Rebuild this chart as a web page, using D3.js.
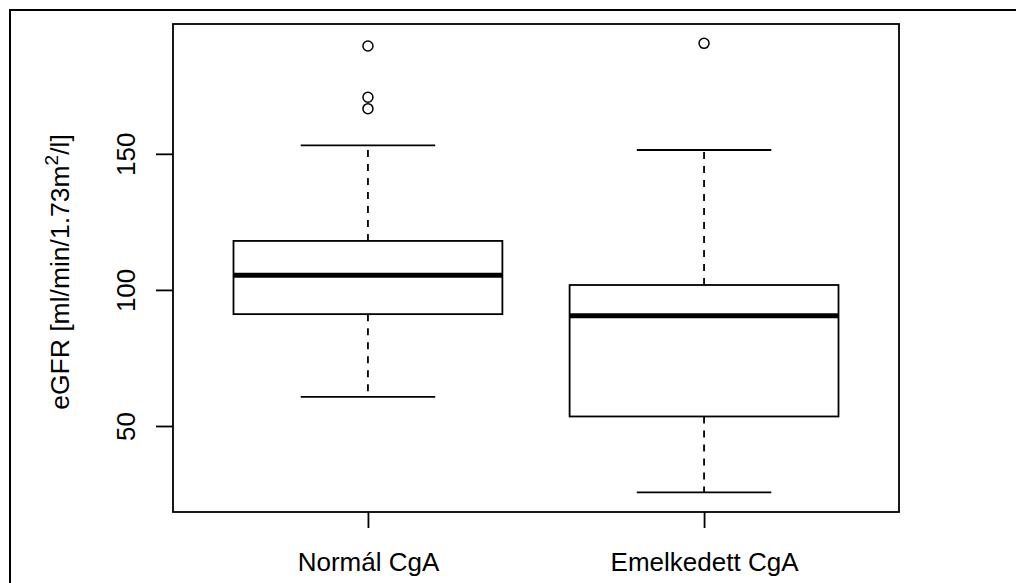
<!DOCTYPE html>
<html>
<head>
<meta charset="utf-8">
<script src="https://cdn.jsdelivr.net/npm/d3@7"></script>
<style>
  body { margin: 0; background: #fff; }
  svg text { font-family: "Liberation Sans", Arial, sans-serif; fill: #000; }
</style>
</head>
<body>
<div id="chart"></div>
<script>
// groups and five-number summaries
const categories = ["Normál CgA", "Emelkedett CgA"];
const lowerWhisker = [60.7, 25.6];
const q1 = [91.1, 53.5];
const medians = [105.4, 90.5];
const q3 = [118.0, 101.8];
const upperWhisker = [153.1, 151.4];
const outliers = [[166.6, 170.8, 189.6], [190.6]];
const yTicks = [50, 100, 150];

const width = 1016, height = 583;
const margin = {top: 24, right: 117, bottom: 71, left: 173};

const svg = d3.select("#chart").append("svg")
    .attr("width", width)
    .attr("height", height);

// outer frame (runs off the right and bottom edge)
svg.append("rect")
    .attr("x", 10).attr("y", 10)
    .attr("width", width).attr("height", height)
    .attr("fill", "none").attr("stroke", "#000").attr("stroke-width", 2);

const x = d3.scalePoint()
    .domain(categories)
    .range([margin.left, width - margin.right])
    .padding(0.58);

const y = d3.scaleLinear()
    .domain([18.4, 197.7])
    .range([height - margin.bottom, margin.top]);

const boxW = x.step() * 0.8;
const capW = x.step() * 0.4;

const data = categories.map((c, i) => ({
    cat: c, lo: lowerWhisker[i], q1: q1[i], med: medians[i],
    q3: q3[i], hi: upperWhisker[i], out: outliers[i]
}));

const g = svg.selectAll(".box")
    .data(data)
    .enter().append("g")
    .attr("class", "box");

// dashed whiskers
g.append("line")
    .attr("x1", d => x(d.cat)).attr("x2", d => x(d.cat))
    .attr("y1", d => y(d.q3)).attr("y2", d => y(d.hi))
    .attr("stroke", "#000").attr("stroke-width", 1.8)
    .attr("stroke-dasharray", "7,7");
g.append("line")
    .attr("x1", d => x(d.cat)).attr("x2", d => x(d.cat))
    .attr("y1", d => y(d.q1)).attr("y2", d => y(d.lo))
    .attr("stroke", "#000").attr("stroke-width", 1.8)
    .attr("stroke-dasharray", "7,7");

// whisker caps
g.append("line")
    .attr("x1", d => x(d.cat) - capW / 2).attr("x2", d => x(d.cat) + capW / 2)
    .attr("y1", d => y(d.hi)).attr("y2", d => y(d.hi))
    .attr("stroke", "#000").attr("stroke-width", 1.8);
g.append("line")
    .attr("x1", d => x(d.cat) - capW / 2).attr("x2", d => x(d.cat) + capW / 2)
    .attr("y1", d => y(d.lo)).attr("y2", d => y(d.lo))
    .attr("stroke", "#000").attr("stroke-width", 1.8);

// box
g.append("rect")
    .attr("x", d => x(d.cat) - boxW / 2)
    .attr("y", d => y(d.q3))
    .attr("width", boxW)
    .attr("height", d => y(d.q1) - y(d.q3))
    .attr("fill", "#fff").attr("stroke", "#000").attr("stroke-width", 1.8);

// median
g.append("line")
    .attr("x1", d => x(d.cat) - boxW / 2).attr("x2", d => x(d.cat) + boxW / 2)
    .attr("y1", d => y(d.med)).attr("y2", d => y(d.med))
    .attr("stroke", "#000").attr("stroke-width", 5);

// outliers
g.selectAll(".out")
    .data(d => d.out.map(v => ({cat: d.cat, v: v})))
    .enter().append("circle")
    .attr("class", "out")
    .attr("cx", d => x(d.cat))
    .attr("cy", d => y(d.v))
    .attr("r", 5)
    .attr("fill", "none").attr("stroke", "#000").attr("stroke-width", 1.5);

// plot frame
svg.append("rect")
    .attr("x", margin.left).attr("y", margin.top)
    .attr("width", width - margin.left - margin.right)
    .attr("height", height - margin.top - margin.bottom)
    .attr("fill", "none").attr("stroke", "#000").attr("stroke-width", 1.8);

// y axis
const yAxis = svg.append("g")
    .attr("transform", "translate(" + margin.left + ",0)")
    .call(d3.axisLeft(y).tickValues(yTicks).tickSize(17).tickFormat(d3.format("d")));
yAxis.select(".domain").remove();
yAxis.selectAll("line").attr("stroke", "#000").attr("stroke-width", 1.8);
yAxis.selectAll("text")
    .attr("x", 0).attr("dy", 0)
    .attr("transform", "translate(-38,0) rotate(-90)")
    .attr("text-anchor", "middle")
    .style("font-size", "26px");

// x axis
const xAxis = svg.append("g")
    .attr("transform", "translate(0," + (height - margin.bottom) + ")")
    .call(d3.axisBottom(x).tickSize(16));
xAxis.select(".domain").remove();
xAxis.selectAll("line").attr("stroke", "#000").attr("stroke-width", 1.8);
xAxis.selectAll("text")
    .attr("y", 59).attr("dy", 0)
    .style("font-size", "26px");

// y label with superscript
const yl = svg.append("text")
    .attr("transform", "translate(69," + ((margin.top + height - margin.bottom) / 2 + 4) + ") rotate(-90)")
    .attr("text-anchor", "middle")
    .style("font-size", "26.5px");
yl.append("tspan").text("eGFR [ml/min/1.73m");
yl.append("tspan").attr("dy", -11).style("font-size", "19px").text("2");
yl.append("tspan").attr("dy", 11).text("/l]");
</script>
</body>
</html>
